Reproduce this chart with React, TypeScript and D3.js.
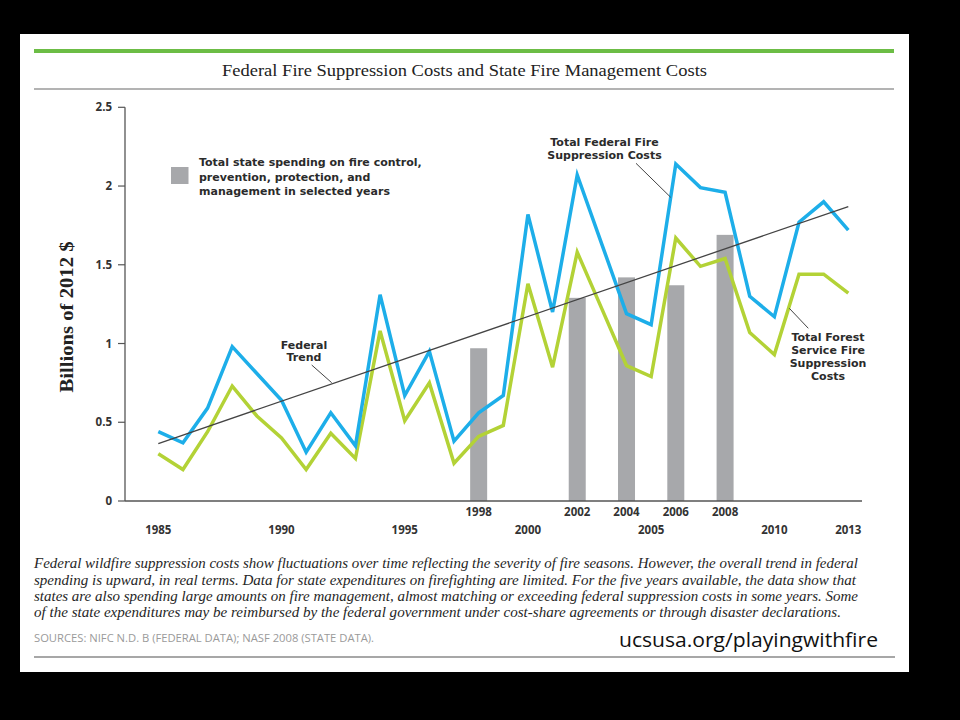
import React from "react";
import * as d3 from "d3";

const years = [1985,1986,1987,1988,1989,1990,1991,1992,1993,1994,1995,1996,1997,1998,1999,2000,2001,2002,2003,2004,2005,2006,2007,2008,2009,2010,2011,2012,2013];
const federalCosts = [0.44,0.37,0.59,0.98,0.81,0.64,0.31,0.56,0.35,1.31,0.67,0.95,0.38,0.56,0.67,1.82,1.20,2.07,1.63,1.19,1.12,2.14,1.99,1.96,1.30,1.17,1.77,1.90,1.72];
const forestServiceCosts = [0.30,0.20,0.44,0.73,0.54,0.40,0.20,0.43,0.27,1.08,0.51,0.75,0.24,0.41,0.48,1.38,0.85,1.58,1.22,0.86,0.79,1.67,1.49,1.54,1.07,0.93,1.44,1.44,1.32];
const stateYears = [1998,2002,2004,2006,2008];
const stateSpending = [0.97,1.29,1.42,1.37,1.69];
const trendYears = [1985, 2013];
const trendValues = [0.365, 1.87];
const yTicks = [0, 0.5, 1, 1.5, 2, 2.5];
const yTickLabels = ["0", "0.5", "1", "1.5", "2", "2.5"];
const xMajorYears = [1985,1990,1995,2000,2005,2010,2013];

const title = "Federal Fire Suppression Costs and State Fire Management Costs";
const yLabel = "Billions of 2012 $";
const legendLines = ["Total state spending on fire control,", "prevention, protection, and", "management in selected years"];
const trendLabel = ["Federal", "Trend"];
const federalLabel = ["Total Federal Fire", "Suppression Costs"];
const forestLabel = ["Total Forest", "Service Fire", "Suppression", "Costs"];
const captionLines = [
  "Federal wildfire suppression costs show fluctuations over time reflecting the severity of fire seasons. However, the overall trend in federal",
  "spending is upward, in real terms. Data for state expenditures on firefighting are limited. For the five years available, the data show that",
  "states are also spending large amounts on fire management, almost matching or exceeding federal suppression costs in some years. Some",
  "of the state expenditures may be reimbursed by the federal government under cost-share agreements or through disaster declarations.",
];
const captionWidths = [824, 822, 824, 807];
const sourcesText = "SOURCES: NIFC N.D. B (FEDERAL DATA); NASF 2008 (STATE DATA).";
const urlText = "ucsusa.org/playingwithfire";

const SANS = "'Open Sans', 'DejaVu Sans', sans-serif";
const WIDE = "'DejaVu Sans', 'Open Sans', sans-serif";
const SERIF = "'Liberation Serif', 'DejaVu Serif', serif";

function MultiLine({ lines, x, y, dy, anchor = "middle" }: { lines: string[]; x: number; y: number; dy: number; anchor?: string }) {
  return (
    <text x={x} y={y} textAnchor={anchor} fontFamily={WIDE} fontWeight="bold" fontSize={11} fill="#2b2b2b">
      {lines.map((l, i) => (
        <tspan key={l} x={x} dy={i === 0 ? 0 : dy}>
          {l}
        </tspan>
      ))}
    </text>
  );
}

export default function App() {
  const x = d3.scaleLinear().domain([1985, 2013]).range([158.3, 848.3]);
  const y = d3.scaleLinear().domain([0, 2.5]).range([501, 107.3]);

  const line = d3
    .line<number>()
    .x((_, i) => x(years[i]))
    .y((d) => y(d));

  const trendLine = d3
    .line<number>()
    .x((_, i) => x(trendYears[i]))
    .y((d) => y(d));

  const barW = 17;
  const axisX = 125;
  const axisRight = 862;

  return (
    <svg
      width={960}
      height={720}
      style={{ position: "absolute", left: 0, top: 0 }}
      xmlns="http://www.w3.org/2000/svg"
    >
      <rect x={0} y={0} width={960} height={720} fill="#000" />
      <rect x={20} y={34} width={889} height={638} fill="#fff" />
      <rect x={34} y={49} width={860} height={4} fill="#6cbd45" />
      <text
        x={464.5}
        y={76}
        textAnchor="middle"
        fontFamily={SERIF}
        fontSize={17.5}
        fill="#222"
        textLength={485}
        lengthAdjust="spacingAndGlyphs"
      >
        {title}
      </text>
      <line x1={34} x2={894} y1={89} y2={89} stroke="#9a9a9a" strokeWidth={1.3} />

      {/* y axis label */}
      <text
        transform={`translate(73,317) rotate(-90)`}
        textAnchor="middle"
        fontFamily={SERIF}
        fontWeight="bold"
        fontSize={18}
        fill="#222"
        textLength={151}
        lengthAdjust="spacingAndGlyphs"
      >
        {yLabel}
      </text>

      {/* bars */}
      {stateYears.map((yr, i) => (
        <rect
          key={yr}
          x={x(yr) - barW / 2}
          y={y(stateSpending[i])}
          width={barW}
          height={y(0) - y(stateSpending[i])}
          fill="#a7a8ab"
        />
      ))}

      {/* lines */}
      <path d={line(forestServiceCosts) || ""} fill="none" stroke="#b3d236" strokeWidth={3.5} strokeLinejoin="miter" />
      <path d={line(federalCosts) || ""} fill="none" stroke="#1daee9" strokeWidth={3.5} strokeLinejoin="miter" />
      <path d={trendLine(trendValues) || ""} fill="none" stroke="#444" strokeWidth={1.3} />

      {/* axes */}
      <line x1={axisX} x2={axisX} y1={y(2.5)} y2={y(0)} stroke="#555" strokeWidth={1.3} />
      <line x1={axisX} x2={axisRight} y1={y(0)} y2={y(0)} stroke="#555" strokeWidth={1.3} />
      {yTicks.map((t, i) => (
        <g key={t}>
          <line x1={118} x2={axisX} y1={y(t)} y2={y(t)} stroke="#555" strokeWidth={1.2} />
          <text
            x={112}
            y={y(t) + 4}
            textAnchor="end"
            fontFamily={SANS}
            fontWeight={700}
            fontSize={11.5}
            fill="#333"
          >
            {yTickLabels[i]}
          </text>
        </g>
      ))}
      {stateYears.map((yr) => (
        <text key={"s" + yr} x={x(yr)} y={516} textAnchor="middle" fontFamily={SANS} fontWeight={700} fontSize={11.5} fill="#333">
          {String(yr)}
        </text>
      ))}
      {xMajorYears.map((yr) => (
        <text key={"m" + yr} x={x(yr)} y={534} textAnchor="middle" fontFamily={SANS} fontWeight={700} fontSize={11.5} fill="#333">
          {String(yr)}
        </text>
      ))}

      {/* legend */}
      <rect x={171} y={167} width={17.5} height={17} fill="#a7a8ab" />
      <MultiLine lines={legendLines} x={199} y={166} dy={14.5} anchor="start" />

      {/* annotations */}
      <MultiLine lines={trendLabel} x={304} y={348.5} dy={12.8} />
      <line x1={311.7} y1={365} x2={331.7} y2={382.7} stroke="#444" strokeWidth={1} />

      <MultiLine lines={federalLabel} x={604.5} y={146} dy={12.5} />
      <line x1={636} y1={163.3} x2={670.7} y2={197.3} stroke="#444" strokeWidth={1} />

      <MultiLine lines={forestLabel} x={828} y={341} dy={13} />
      <line x1={789.3} y1={308.3} x2={808.3} y2={328.3} stroke="#444" strokeWidth={1} />

      {/* caption */}
      {captionLines.map((l, i) => (
        <text
          key={i}
          x={34}
          y={568.3 + i * 16.3}
          fontFamily={SERIF}
          fontStyle="italic"
          fontSize={15.5}
          fill="#262626"
          textLength={captionWidths[i]}
          lengthAdjust="spacingAndGlyphs"
        >
          {l}
        </text>
      ))}
      <text x={34} y={642} fontFamily={SANS} fontSize={10.5} fill="#9a9a9a" textLength={340} lengthAdjust="spacingAndGlyphs">
        {sourcesText}
      </text>
      <text x={619} y={647} fontFamily={SANS} fontSize={20} fill="#111" textLength={259} lengthAdjust="spacingAndGlyphs">
        {urlText}
      </text>
      <line x1={34} x2={895} y1={657} y2={657} stroke="#8a8a8a" strokeWidth={1.3} />
    </svg>
  );
}
